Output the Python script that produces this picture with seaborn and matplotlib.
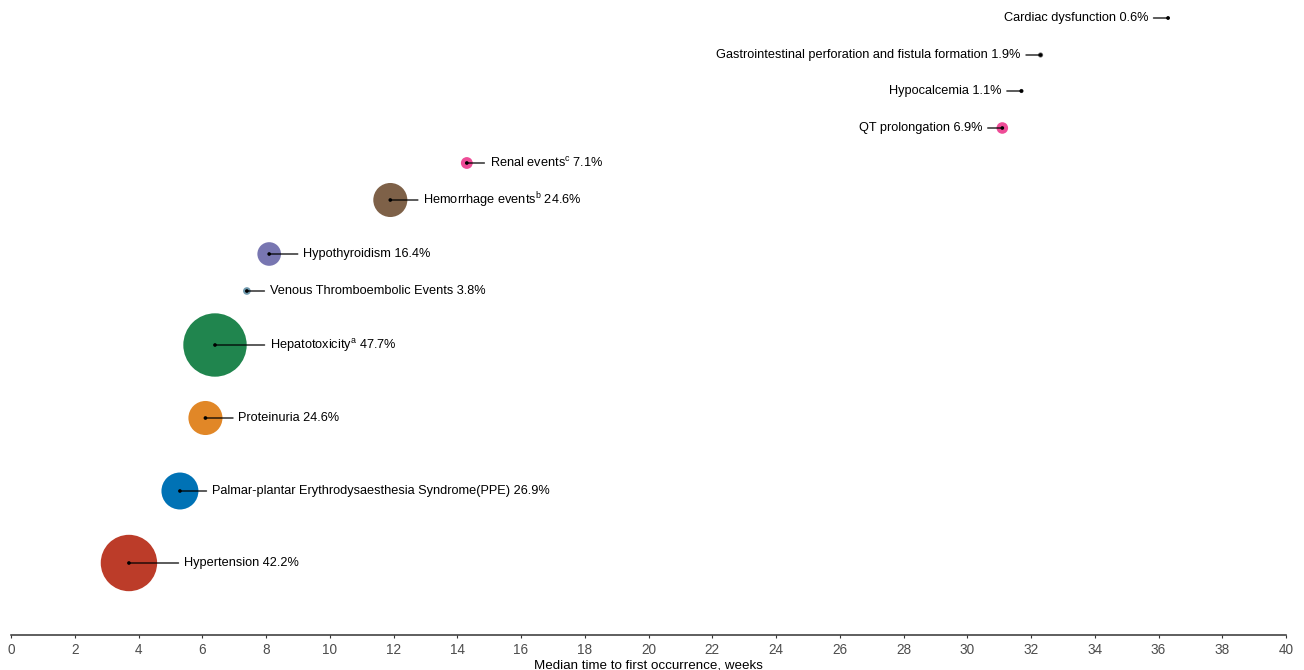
import matplotlib
matplotlib.use("Agg")
import matplotlib.pyplot as plt
import seaborn as sns
import pandas as pd

# ---------------- data ----------------
events = [
    "Cardiac dysfunction",
    "Gastrointestinal perforation and fistula formation",
    "Hypocalcemia",
    "QT prolongation",
    "Renal events",
    "Hemorrhage events",
    "Hypothyroidism",
    "Venous Thromboembolic Events",
    "Hepatotoxicity",
    "Proteinuria",
    "Palmar-plantar Erythrodysaesthesia Syndrome(PPE)",
    "Hypertension",
]
superscripts = ["", "", "", "", "c", "b", "", "", "a", "", "", ""]
median_weeks = [36.3, 32.3, 31.7, 31.1, 14.3, 11.9, 8.1, 7.4, 6.4, 6.1, 5.3, 3.7]
incidence_pct = [0.6, 1.9, 1.1, 6.9, 7.1, 24.6, 16.4, 3.8, 47.7, 24.6, 26.9, 42.2]
# vertical layout position of each event row
row_position = [617, 580, 544, 507, 472, 435, 381, 344, 290, 217, 144, 72]
x_ticks = list(range(0, 41, 2))
x_label = "Median time to first occurrence, weeks"

# ---------------- style ----------------
colors = ["#7A7A7A", "#7A7A7A", "#7A7A7A", "#EE4C97", "#EE4C97", "#7E6148",
          "#7876B1", "#6F99AD", "#20854E", "#E18727", "#0072B5", "#BC3C29"]
label_side = ["left", "left", "left", "left", "right", "right",
              "right", "right", "right", "right", "right", "right"]
label_gap_px = [20, 20, 20, 20, 23, 33, 34, 23, 55, 33, 32, 55]

sns.set_style("white")
plt.rcParams["font.family"] = ["Liberation Sans", "DejaVu Sans"]
plt.rcParams["mathtext.fontset"] = "custom"
plt.rcParams["mathtext.rm"] = "Liberation Sans"
plt.rcParams["mathtext.it"] = "Liberation Sans:italic"

DPI = 100
fig = plt.figure(figsize=(13.04, 6.70), dpi=DPI)
ax = fig.add_axes([11 / 1304, 35 / 670, 1275 / 1304, 635 / 670])

df = pd.DataFrame({
    "event": events,
    "weeks": median_weeks,
    "incidence": incidence_pct,
    "row": row_position,
})

# bubble radius grows linearly with incidence (px), convert to marker area (pt^2)
pt_per_px = 72 / DPI
size_map = {}
for ev, inc in zip(events, incidence_pct):
    r_px = 1.4 + 0.635 * inc
    size_map[ev] = (2 * r_px * pt_per_px) ** 2

sns.scatterplot(data=df, x="weeks", y="row", hue="event",
                palette=dict(zip(events, colors)), size="event", sizes=size_map,
                edgecolor="none", linewidth=0, alpha=1, legend=False, ax=ax,
                clip_on=False, zorder=2)

# label text + leader lines
for ev, sup, w, inc, r, side, gap in zip(events, superscripts, median_weeks,
                                        incidence_pct, row_position,
                                        label_side, label_gap_px):
    name = ev + (r"$^{\mathrm{%s}}$" % sup if sup else "")
    txt = f"{name} {inc}%"
    if side == "right":
        dx, ha, relx = gap, "left", 0.0
    else:
        dx, ha, relx = -gap, "right", 1.0
    ax.annotate(txt, xy=(w, r), xytext=(dx, 0), textcoords="offset pixels",
                ha=ha, va="center", fontsize=9.15, color="black",
                arrowprops=dict(arrowstyle="-", color="black", lw=0.9,
                                shrinkA=1.5, shrinkB=0, relpos=(relx, 0.5)),
                zorder=3, annotation_clip=False)

sns.scatterplot(data=df, x="weeks", y="row", color="black", s=7,
                edgecolor="none", legend=False, ax=ax, zorder=4, clip_on=False)

ax.set_xlim(0, 40)
ax.set_ylim(0, 635)
ax.set_xticks(x_ticks)
ax.set_xticklabels([str(t) for t in x_ticks], fontsize=9.8, color="#4D4D4D")
ax.set_yticks([])
ax.set_ylabel("")
ax.set_xlabel(x_label, fontsize=9.6, color="black", labelpad=1.5)
for s in ["left", "top", "right"]:
    ax.spines[s].set_visible(False)
ax.spines["bottom"].set_color("#333333")
ax.spines["bottom"].set_linewidth(1.1)
ax.tick_params(axis="x", direction="out", length=2.5, width=0.8,
               color="#333333", pad=3.3, bottom=True)
ax.patch.set_alpha(0)

fig.savefig("out.png", dpi=DPI)
